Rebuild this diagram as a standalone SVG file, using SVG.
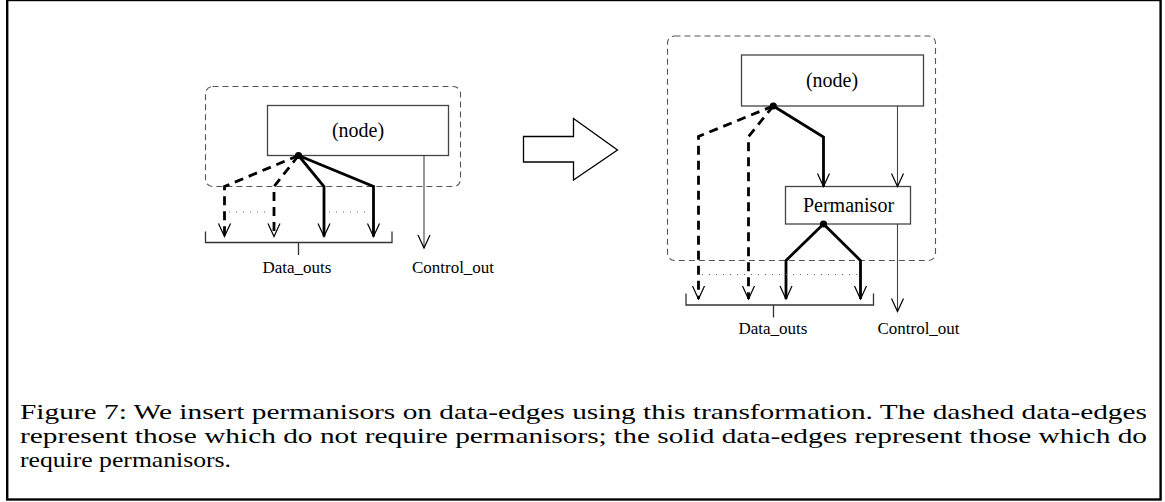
<svg xmlns="http://www.w3.org/2000/svg" width="1165" height="502" viewBox="0 0 1165 502">
  <style>
    .frame { fill: none; stroke: #000; stroke-width: 2.4; }
    .region { fill: none; stroke: #555; stroke-width: 1.1; stroke-dasharray: 6 4; }
    .box { fill: #fff; stroke: #444; stroke-width: 1.3; }
    .label { font-family: "Liberation Serif", "Times New Roman", serif; fill: #000; text-anchor: middle; }
    .nodeText { font-size: 20px; }
    .outText { font-size: 17px; }
    .caption { font-family: "Liberation Serif", "Times New Roman", serif; font-size: 21px; fill: #000; }
    .thin { fill: none; stroke: #444; stroke-width: 1.1; }
    .solid { fill: none; stroke: #000; stroke-width: 2.8; stroke-linejoin: miter; }
    .dashed { fill: none; stroke: #000; stroke-width: 2.8; stroke-dasharray: 9 6; }
    .dotted { fill: none; stroke: #666; stroke-width: 1.1; stroke-dasharray: 1 6; }
    .bracket { fill: none; stroke: #333; stroke-width: 1.3; }
    .dot { fill: #000; }
    .bigArrow { fill: #fff; stroke: #000; stroke-width: 1.3; stroke-linejoin: miter; }
  </style>
  <defs>
    <marker id="vee" markerUnits="userSpaceOnUse" markerWidth="16" markerHeight="16" refX="0" refY="0" orient="auto" overflow="visible">
      <path d="M-13,-6 L0,0 L-13,6" fill="none" stroke="#000" stroke-width="1.2" stroke-dasharray="none"/>
    </marker>
  </defs>

  <rect class="frame" x="7.2" y="0" width="1153.4" height="499.5"/>

  <!-- left: before the transformation -->
  <g id="left-region">
    <rect class="region" x="205.5" y="86.5" width="255" height="100" rx="7"/>
  </g>
  <g id="left-node">
    <rect class="box" x="267.5" y="105.5" width="181" height="50"/>
    <text class="label nodeText" x="358" y="137">(node)</text>
  </g>
  <g id="left-connectors">
    <path class="dashed" d="M298.5,155.5 L224.5,186.5 L224.5,236.5" marker-end="url(#vee)"/>
    <path class="dashed" d="M298.5,155.5 L274,186.5 L274,236.5" marker-end="url(#vee)"/>
    <path class="solid" d="M298.5,155.5 L324,186.5 L324,236.5" marker-end="url(#vee)"/>
    <path class="solid" d="M298.5,155.5 L373.5,186.5 L373.5,236.5" marker-end="url(#vee)"/>
    <circle class="dot" cx="298.5" cy="155.5" r="3.6"/>
    <path class="dotted" d="M229,212 L271,212 M329,212 L371,212"/>
    <path class="thin" d="M424,155.5 L424,248" marker-end="url(#vee)"/>
    <path class="bracket" d="M205.5,231.5 L205.5,242.5 L392,242.5 L392,231.5 M298.5,242.5 L298.5,255"/>
  </g>
  <g id="left-outputs">
    <text class="label outText" x="297" y="273">Data_outs</text>
    <text class="label outText" x="453" y="273">Control_out</text>
  </g>

  <!-- transformation arrow -->
  <g id="transform-arrow">
    <polygon class="bigArrow" points="523.5,136.5 573.5,136.5 573.5,118.5 617.5,150 573.5,180 573.5,162 523.5,162"/>
  </g>

  <!-- right: after the transformation -->
  <g id="right-region">
    <rect class="region" x="667.5" y="36" width="268" height="224.5" rx="7"/>
  </g>
  <g id="right-node">
    <rect class="box" x="741.5" y="55" width="182" height="51"/>
    <text class="label nodeText" x="832" y="87">(node)</text>
  </g>
  <g id="permanisor">
    <rect class="box" x="785.5" y="186.5" width="125" height="37.5"/>
    <text class="label nodeText" x="848.5" y="212">Permanisor</text>
  </g>
  <g id="right-connectors">
    <path class="dashed" d="M773.3,106 L698.5,136.5 L698.5,299" marker-end="url(#vee)"/>
    <path class="dashed" d="M773.3,106 L748.5,136.5 L748.5,299" marker-end="url(#vee)"/>
    <path class="solid" d="M773.3,106 L823.5,137 L823.5,186.5" marker-end="url(#vee)"/>
    <circle class="dot" cx="773.3" cy="106" r="3.6"/>
    <path class="thin" d="M897.5,106 L897.5,186.5" marker-end="url(#vee)"/>
    <path class="thin" d="M897.5,224 L897.5,311.5" marker-end="url(#vee)"/>
    <path class="solid" d="M823.5,224 L786,260.5 L786,299" marker-end="url(#vee)"/>
    <path class="solid" d="M823.5,224 L860.5,260.5 L860.5,299" marker-end="url(#vee)"/>
    <circle class="dot" cx="823.5" cy="224" r="3.6"/>
    <path class="dotted" d="M702,274.5 L858,274.5"/>
    <path class="bracket" d="M686,293.5 L686,305 L873.5,305 L873.5,293.5 M773.5,305 L773.5,317.5"/>
  </g>
  <g id="right-outputs">
    <text class="label outText" x="773" y="334">Data_outs</text>
    <text class="label outText" x="918.5" y="334">Control_out</text>
  </g>

  <!-- caption -->
  <g id="caption">
    <text class="caption" x="20" y="418.5" textLength="1127" lengthAdjust="spacingAndGlyphs">Figure 7: We insert permanisors on data-edges using this transformation. The dashed data-edges</text>
    <text class="caption" x="20" y="442.5" textLength="1127" lengthAdjust="spacingAndGlyphs">represent those which do not require permanisors; the solid data-edges represent those which do</text>
    <text class="caption" x="20" y="466.5" textLength="211" lengthAdjust="spacingAndGlyphs">require permanisors.</text>
  </g>
</svg>
